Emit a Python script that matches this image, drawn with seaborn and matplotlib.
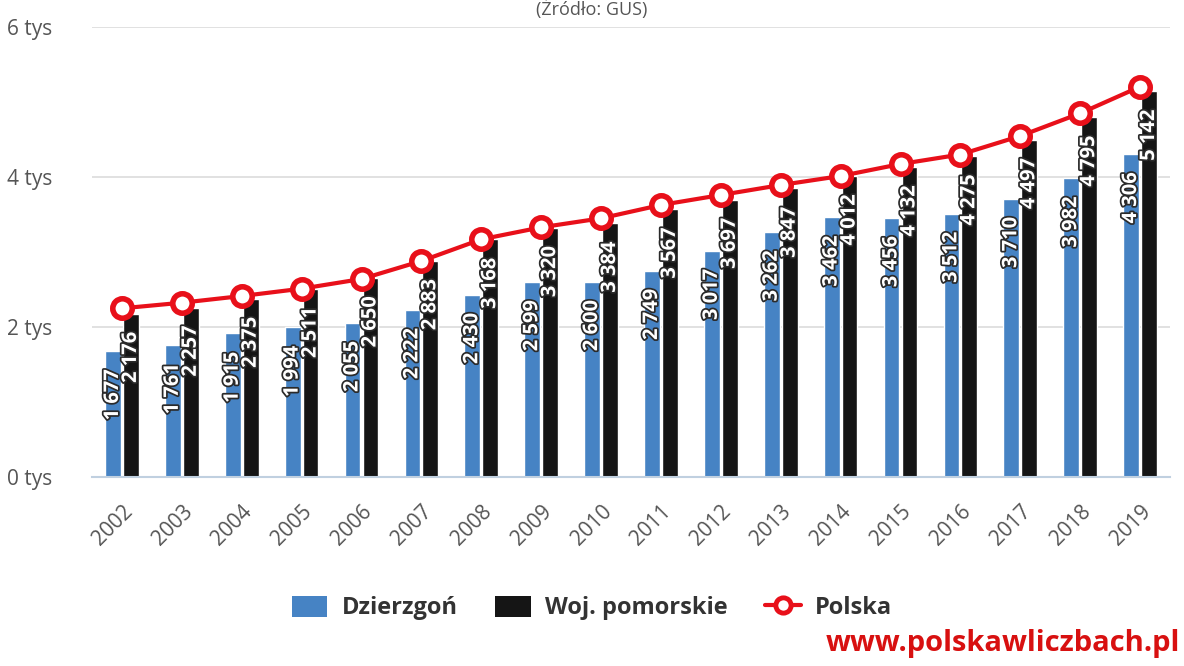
import numpy as np
import pandas as pd
import matplotlib
matplotlib.use("Agg")
import matplotlib.pyplot as plt
import matplotlib.patheffects as pe
from matplotlib.lines import Line2D
from matplotlib.patches import Patch
import seaborn as sns

years = [str(y) for y in range(2002, 2020)]
dzierzgon = [1677, 1761, 1915, 1994, 2055, 2222, 2430, 2599, 2600, 2749, 3017, 3262, 3462, 3456, 3512, 3710, 3982, 4306]
pomorskie = [2176, 2257, 2375, 2511, 2650, 2883, 3168, 3320, 3384, 3567, 3697, 3847, 4012, 4132, 4275, 4497, 4795, 5142]
polska = [2249, 2324, 2413, 2511, 2640, 2880, 3169, 3329, 3449, 3627, 3760, 3893, 4013, 4173, 4300, 4547, 4849, 5204]
series_names = ["Dzierzgoń", "Woj. pomorskie", "Polska"]
yticks = [0, 2000, 4000, 6000]
ytick_labels = ["0 tys", "2 tys", "4 tys", "6 tys"]

sns.set_theme(style="white")
plt.rcParams["font.family"] = ["Open Sans", "DejaVu Sans"]

fig = plt.figure(figsize=(11.84, 6.66), dpi=100)
ax = fig.add_axes([92/1184, 1-477/666, (1170-92)/1184, (477-27)/666])

blue = "#4683c4"
black = "#151515"
red = "#e8101a"

df = pd.DataFrame({
    "year": years * 2,
    "value": dzierzgon + pomorskie,
    "series": [series_names[0]] * len(years) + [series_names[1]] * len(years),
})
colors = {series_names[0]: blue, series_names[1]: black}
sns.barplot(data=df, x="year", y="value", hue="series", palette=colors,
            width=0.6, gap=0.12, ax=ax, legend=False, saturation=1)

dfl = pd.DataFrame({"x": np.arange(len(years)), "value": polska})
sns.lineplot(data=dfl, x="x", y="value", ax=ax, color=red, linewidth=3,
             marker="o", markersize=14, markerfacecolor="white",
             markeredgecolor=red, markeredgewidth=4, zorder=5)

def fmt(v):
    return f"{v:,}".replace(",", " ")
for cont in ax.containers:
    for bar in cont:
        h = bar.get_height()
        ax.annotate(fmt(int(round(h))), (bar.get_x() + bar.get_width()/2, h),
                    xytext=(0, -13), textcoords="offset points",
                    rotation=90, ha="center", va="top", color="white",
                    fontsize=14.5, fontweight="bold", zorder=6,
                    path_effects=[pe.withStroke(linewidth=2.5, foreground="#2a2a2a")])

ax.set_ylim(0, 6000)
ax.set_xlim(-0.5, len(years) - 0.5)
ax.set_yticks(yticks)
ax.set_yticklabels(ytick_labels)
ax.yaxis.grid(True, color="#dcdcdc", linewidth=1.2)
ax.set_axisbelow(True)
for s in ["top", "right", "left"]:
    ax.spines[s].set_visible(False)
ax.spines["bottom"].set_color("#c0d0e0")
ax.spines["bottom"].set_linewidth(1.5)
ax.set_xlabel("")
ax.set_ylabel("")
ax.tick_params(axis="y", length=0, labelsize=15, labelcolor="#555555", pad=61)
for t in ax.get_yticklabels():
    t.set_horizontalalignment("left")
ax.set_xticks(np.arange(len(years)))
ax.set_xticklabels(years, rotation=45, ha="right", rotation_mode="anchor")
ax.tick_params(axis="x", which="major", length=0, labelsize=15, labelcolor="#555555", pad=17)
ax.set_xticks(np.arange(len(years) + 1) - 0.5, minor=True)
ax.tick_params(axis="x", which="minor", length=10, width=1.5, color="#c0d0e0", direction="out")

ax.get_ygridlines()[0].set_visible(False)

fig.text(0.5, 1 - 15/666, "(Źródło: GUS)", ha="center", va="baseline",
         fontsize=13, color="#555555")

handles = [
    Patch(facecolor=blue, edgecolor="none"),
    Patch(facecolor=black, edgecolor="none"),
    Line2D([0], [0], color=red, linewidth=3, marker="o", markersize=11,
           markerfacecolor="white", markeredgecolor=red, markeredgewidth=3.5),
]
fig.legend(handles, series_names, loc="center", bbox_to_anchor=(0.5, 1 - 608/666),
           ncol=3, frameon=False, prop={"size": 17, "weight": "bold"},
           labelcolor="#333333", handlelength=1.5, handleheight=1.0,
           columnspacing=1.6, handletextpad=0.6)

fig.text(1 - 4/1184, 1 - 643/666, "www.polskawliczbach.pl", ha="right", va="center",
         fontsize=21, fontweight="bold", color="#d81010")

fig.savefig("out.png", dpi=100)
